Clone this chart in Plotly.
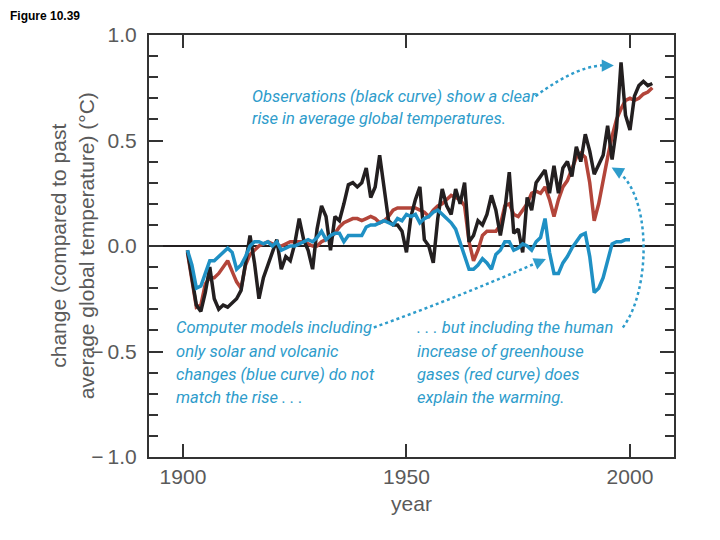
import plotly.graph_objects as go

# ---------------- data ----------------
years_obs = list(range(1901, 2006))
observed = [
    -0.02, -0.15, -0.28, -0.31, -0.22, -0.10, -0.25, -0.30, -0.28, -0.29,   # 1901-1910
    -0.27, -0.25, -0.21, -0.08, 0.05, -0.08, -0.25, -0.15, -0.09, -0.02,    # 1911-1920
    0.03, -0.11, -0.05, -0.07, 0.01, 0.13, 0.03, -0.02, -0.11, 0.08,        # 1921-1930
    0.19, 0.14, -0.02, 0.14, 0.12, 0.20, 0.29, 0.30, 0.28, 0.30,            # 1931-1940
    0.37, 0.23, 0.28, 0.43, 0.28, 0.12, 0.10, 0.10, 0.07, -0.03,            # 1941-1950
    0.14, 0.22, 0.28, 0.03, 0.00, -0.08, 0.13, 0.27, 0.19, 0.15,            # 1951-1960
    0.27, 0.20, 0.30, 0.02, 0.05, 0.12, 0.10, 0.15, 0.24, 0.17,             # 1961-1970
    0.05, 0.17, 0.35, 0.06, 0.08, -0.03, 0.23, 0.17, 0.30, 0.33,            # 1971-1980
    0.36, 0.25, 0.38, 0.25, 0.37, 0.40, 0.33, 0.47, 0.40, 0.53,             # 1981-1990
    0.45, 0.34, 0.39, 0.43, 0.57, 0.41, 0.56, 0.87, 0.62, 0.55,             # 1991-2000
    0.71, 0.76, 0.78, 0.76, 0.77,                                           # 2001-2005
]

years_all = list(range(1901, 2006))
model_all = [
    -0.03, -0.15, -0.29, -0.28, -0.18, -0.15, -0.15, -0.13, -0.10, -0.07,   # 1901-1910
    -0.12, -0.17, -0.20, -0.09, -0.04, -0.02, 0.00, 0.01, 0.02, 0.01,       # 1911-1920
    0.00, 0.00, 0.01, 0.02, 0.02, 0.02, 0.02, 0.01, 0.00, 0.00,             # 1921-1930
    0.02, 0.03, 0.04, 0.06, 0.09, 0.11, 0.12, 0.13, 0.13, 0.12,             # 1931-1940
    0.13, 0.14, 0.13, 0.11, 0.12, 0.14, 0.17, 0.18, 0.18, 0.18,             # 1941-1950
    0.18, 0.18, 0.17, 0.16, 0.14, 0.17, 0.19, 0.20, 0.22, 0.24,             # 1951-1960
    0.23, 0.22, 0.19, 0.02, -0.07, -0.02, 0.05, 0.07, 0.07, 0.07,           # 1961-1970
    0.10, 0.19, 0.20, 0.15, 0.14, 0.17, 0.20, 0.25, 0.26, 0.25,             # 1971-1980
    0.28, 0.22, 0.14, 0.22, 0.28, 0.31, 0.36, 0.42, 0.44, 0.42,             # 1981-1990
    0.30, 0.12, 0.20, 0.32, 0.42, 0.52, 0.60, 0.65, 0.69, 0.70,             # 1991-2000
    0.69, 0.70, 0.72, 0.73, 0.75,                                           # 2001-2005
]

years_nat = list(range(1901, 2001))
model_natural = [
    -0.02, -0.09, -0.20, -0.19, -0.13, -0.07, -0.07, -0.05, -0.03, -0.01,   # 1901-1910
    -0.03, -0.11, -0.09, -0.05, 0.00, 0.02, 0.02, 0.01, 0.02, 0.00,         # 1911-1920
    0.02, -0.02, -0.01, 0.00, 0.00, 0.01, 0.02, 0.03, 0.02, 0.04,           # 1921-1930
    0.07, 0.03, 0.05, 0.06, 0.06, 0.02, 0.05, 0.05, 0.05, 0.05,             # 1931-1940
    0.09, 0.10, 0.10, 0.11, 0.12, 0.11, 0.10, 0.13, 0.12, 0.15,             # 1941-1950
    0.14, 0.15, 0.11, 0.13, 0.14, 0.16, 0.17, 0.15, 0.13, 0.11,             # 1951-1960
    0.08, 0.02, -0.05, -0.11, -0.11, -0.09, -0.06, -0.08, -0.11, -0.04,     # 1961-1970
    -0.02, 0.02, 0.02, -0.02, -0.01, 0.01, 0.00, -0.02, 0.02, 0.04,         # 1971-1980
    0.13, -0.03, -0.13, -0.13, -0.08, -0.05, -0.01, 0.02, 0.05, 0.06,       # 1981-1990
    -0.05, -0.22, -0.20, -0.15, -0.07, 0.01, 0.02, 0.02, 0.03, 0.03,        # 1991-2000
]

x_tick_vals = [1900, 1950, 2000]
x_tick_text = ["1900", "1950", "2000"]
y_tick_vals = [-1.0, -0.5, 0.0, 0.5, 1.0]
y_tick_text = ["\u2212\u20091.0", "\u2212\u20090.5", "0.0", "0.5", "1.0"]

# ---------------- styling ----------------
BLACK = "#231f20"
RED = "#b3453a"
BLUE = "#1f90c4"
NOTE = "#2e9ccb"
GRAY = "#5a5a5a"
AXIS = "#333333"
NOTE_FONT = dict(family="Roboto, Liberation Sans, sans-serif",
                 size=16.5, color=NOTE, style="italic")

fig = go.Figure()
fig.add_trace(go.Scatter(x=years_all, y=model_all, mode="lines",
                         line=dict(color=RED, width=3.5), hoverinfo="skip"))
fig.add_trace(go.Scatter(x=years_obs, y=observed, mode="lines",
                         line=dict(color=BLACK, width=3.5), hoverinfo="skip"))
fig.add_trace(go.Scatter(x=years_nat, y=model_natural, mode="lines",
                         line=dict(color=BLUE, width=3.5), hoverinfo="skip"))

# annotation texts
notes = [
    ("Observations (black curve) show a clear", 1915.0, 0.709),
    ("rise in average global temperatures.", 1915.0, 0.604),
    ("Computer models including", 1898.0, -0.386),
    ("only solar and volcanic", 1898.0, -0.500),
    ("changes (blue curve) do not", 1898.0, -0.609),
    ("match the rise . . .", 1898.0, -0.718),
    (". . . but including the human", 1951.9, -0.386),
    ("increase of greenhouse", 1951.9, -0.500),
    ("gases (red curve) does", 1951.9, -0.609),
    ("explain the warming.", 1951.9, -0.718),
]
for txt, xx, yy in notes:
    fig.add_annotation(x=xx, y=yy, xref="x", yref="y", text=txt, showarrow=False,
                       xanchor="left", yanchor="middle", font=NOTE_FONT)

# dotted pointer curves
dots = dict(color=NOTE, width=2.5, dash="dot")
fig.add_shape(type="path", xref="x", yref="y",
              path="M 1978.9,0.71 Q 1989,0.87 1995.6,0.855", line=dots)
fig.add_shape(type="path", xref="x", yref="y",
              path="M 1942.7,-0.386 Q 1962,-0.24 1980.6,-0.066", line=dots)
fig.add_shape(type="path", xref="x", yref="y",
              path="M 1998.4,-0.386 C 2004.9,-0.206 2004.9,0.268 1996.4,0.365", line=dots)

# arrow heads
for hx, hy, ax, ay in [(1996.4, 0.855, -7, 0), (1981.2, -0.062, -7, 3), (1995.9, 0.372, 7, 4)]:
    fig.add_annotation(x=hx, y=hy, xref="x", yref="y", text="", showarrow=True,
                       ax=ax, ay=ay, arrowhead=2, arrowsize=1.1, arrowwidth=2.2,
                       arrowcolor=NOTE)

# y-axis title (two lines) and figure label
fig.add_annotation(x=-0.146, y=0.5, xref="paper", yref="paper",
                   text="change (compared to past<br>average global temperature) (\u00b0C)",
                   textangle=-90, showarrow=False, xanchor="center", yanchor="middle",
                   font=dict(family="Liberation Sans, Arial, sans-serif", size=21, color=GRAY))
fig.add_annotation(x=-0.2686, y=1.046, xref="paper", yref="paper",
                   text="<b>Figure 10.39</b>", showarrow=False,
                   xanchor="left", yanchor="middle",
                   font=dict(family="Liberation Sans, Arial, sans-serif", size=12, color="black"))

fig.update_layout(
    width=720, height=540,
    margin=dict(l=141, r=54, t=27, b=91),
    plot_bgcolor="white", paper_bgcolor="white",
    showlegend=False,
    font=dict(family="Liberation Sans, Arial, sans-serif", color=GRAY),
    xaxis=dict(range=[1892.4, 2009.85], tickvals=x_tick_vals, ticktext=x_tick_text,
               ticks="inside", ticklen=13, tickwidth=1.5, tickcolor=AXIS,
               showline=True, linecolor=AXIS, linewidth=2, mirror="ticks",
               showgrid=False, zeroline=False,
               tickfont=dict(size=21, color=GRAY),
               title=dict(text="year", font=dict(size=21, color=GRAY), standoff=9)),
    yaxis=dict(range=[-1.0, 1.0], tickvals=y_tick_vals, ticktext=y_tick_text,
               ticks="inside", ticklen=14, tickwidth=1.5, tickcolor=AXIS,
               minor=dict(dtick=0.1, tick0=0, ticks="inside", ticklen=9,
                          tickwidth=1.5, tickcolor=AXIS, showgrid=False),
               showline=True, linecolor=AXIS, linewidth=2, mirror="ticks",
               showgrid=False, zeroline=True, zerolinecolor=BLACK, zerolinewidth=2,
               tickfont=dict(size=21, color=GRAY), ticklabelstandoff=6),
)

fig.write_html("out.html")
